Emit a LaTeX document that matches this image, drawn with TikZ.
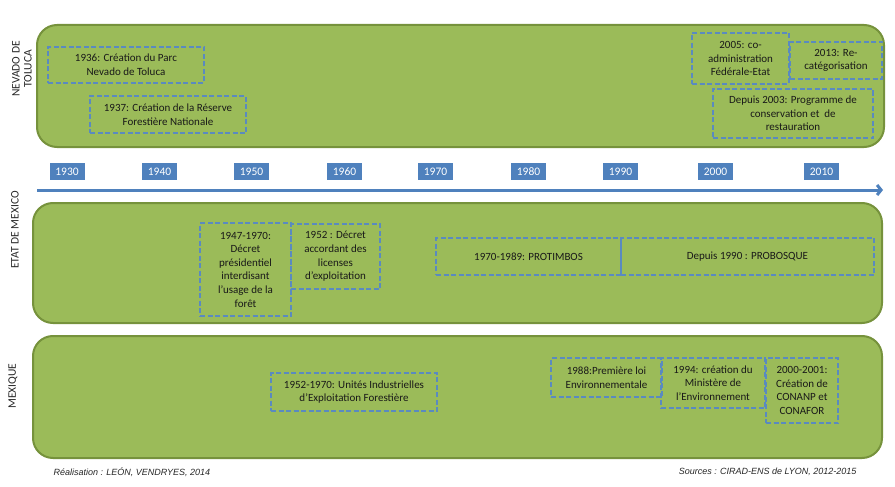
\documentclass[tikz,border=0pt]{standalone}
\usepackage{fontspec}
\setmainfont{Carlito}
\newfontfamily\footfont{Liberation Sans}
\usetikzlibrary{arrows.meta}
\definecolor{bandgreen}{HTML}{9BBB59}
\definecolor{bandedge}{HTML}{76923C}
\definecolor{evtblue}{HTML}{5A8AC0}
\definecolor{yearblue}{HTML}{4F81BD}
\definecolor{labelgray}{HTML}{262626}
\tikzset{
  band/.style={draw=bandedge, fill=bandgreen, line width=2pt, rounded corners=20pt},
  event/.style={draw=evtblue, line width=2pt, dash pattern=on 5pt off 2.5pt,
    align=center, inner sep=1pt, text=black!90, font=\fontsize{11}{13.6}\selectfont},
  yearbox/.style={fill=yearblue, text=white, minimum width=35pt, minimum height=17pt,
    inner sep=0pt, font=\fontsize{11.5}{12}\selectfont},
  lane/.style={rotate=90, align=center, text=labelgray, font=\fontsize{11.5}{12}\selectfont},
  credit/.style={text=labelgray, font=\footfont\itshape\fontsize{9}{10}\selectfont}
}
\begin{document}
\begin{tikzpicture}[x=1pt,y=-1pt]
  \useasboundingbox (0,0) rectangle (895,487);
  % the three lanes
  \node[band, minimum width=847pt, minimum height=122pt] (nevado) at (460.5,86) {};
  \node[band, minimum width=849pt, minimum height=120pt] (etat) at (457.5,263) {};
  \node[band, minimum width=849pt, minimum height=122pt] (mexique) at (457.5,397) {};
  \node[lane] (nevadolbl) at (22,69) {NEVADO DE\\TOLUCA};
  \node[lane] (etatlbl) at (15,230) {ETAT DE MEXICO};
  \node[lane] (mexiquelbl) at (13,386) {MEXIQUE};
  % time axis
  \foreach \yr/\xx in {1930/67,1940/159.5,1950/251.5,1960/344.5,1970/435.5,
                       1980/528.5,1990/620.5,2000/715.5,2010/821.5}
    \node[yearbox] (y\yr) at (\xx,171.5) {\yr};
  \coordinate (axisl) at (37,190);
  \coordinate (axisr) at (883,190);
  \draw[yearblue, line width=3pt, -{Straight Barb[length=4pt,width=10pt]}] (axisl) -- (axisr);
  % Nevado de Toluca
  \node[event, minimum width=156pt, minimum height=36pt] (e1936) at (126,65)
    {1936: Création du Parc\\Nevado de Toluca};
  \node[event, minimum width=156pt, minimum height=37pt] (e1937) at (168,114.5)
    {1937: Création de la Réserve\\Forestière Nationale};
  \node[event, minimum width=97pt, minimum height=51pt] (e2005) at (740.5,58.5)
    {2005: co-\\administration\\Fédérale-Etat};
  \node[event, minimum width=92pt, minimum height=37pt] (e2013) at (836,60.5)
    {2013: Re-\\catégorisation};
  \node[event, minimum width=160pt, minimum height=49pt] (e2003) at (793,113.5)
    {Depuis 2003: Programme de\\conservation et~ de\\restauration};
  % Etat de Mexico
  \node[event, minimum width=91pt, minimum height=93pt] (e1947) at (245.5,269.5)
    {1947-1970:\\Décret\\présidentiel\\interdisant\\l’usage de la\\forêt};
  \node[event, minimum width=89pt, minimum height=65pt] (e1952) at (335.5,256.5)
    {1952 : Décret\\accordant des\\licenses\\d’exploitation};
  \node[event, minimum width=185pt, minimum height=37pt] (e1970) at (528.5,256.5)
    {1970-1989: PROTIMBOS};
  \node[event, minimum width=253pt, minimum height=37pt] (e1990) at (747.5,256.5)
    {Depuis 1990 : PROBOSQUE};
  % Mexique
  \node[event, minimum width=166pt, minimum height=38pt] (e1952b) at (354,392)
    {1952-1970: Unités Industrielles\\d’Exploitation Forestière};
  \node[event, minimum width=111pt, minimum height=39pt] (e1988) at (606.5,377.5)
    {1988:Première loi\\Environnementale};
  \node[event, minimum width=104pt, minimum height=50pt] (e1994) at (713,383)
    {1994: création du\\Ministère de\\l’Environnement};
  \node[event, minimum width=72pt, minimum height=65pt] (e2000) at (802,390.5)
    {2000-2001:\\Création de\\CONANP et\\CONAFOR};
  % credits
  \node[credit, anchor=west] (real) at (50,472) {Réalisation : LEÓN, VENDRYES, 2014};
  \node[credit, anchor=east] (src) at (860,472) {Sources : CIRAD-ENS de LYON, 2012-2015};
\end{tikzpicture}
\end{document}
